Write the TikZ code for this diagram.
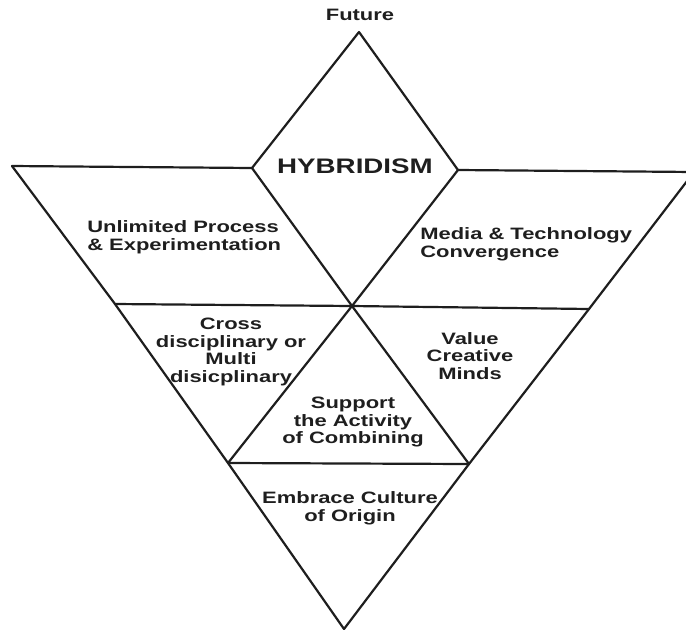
\documentclass[tikz,border=0pt]{standalone}
\usepackage{fontspec}
\setmainfont{Liberation Sans}
\usepackage{tikz}
\definecolor{InkDark}{RGB}{30,30,30}
\tikzstyle{FrameLine}=[InkDark,line width=2.2pt,line cap=round,line join=round]
\tikzstyle{AreaLabel}=[InkDark,align=center,inner sep=0pt,xscale=1.33,
font=\bfseries\fontsize{16.5}{17.7}\selectfont]
\tikzstyle{MainLabel}=[InkDark,inner sep=0pt,xscale=1.32,font=\bfseries\fontsize{21}{24}\selectfont]

\begin{document}
\begin{tikzpicture}[x=1pt,y=-1pt]
        \useasboundingbox(0,0)rectangle(686,630);
        \clip(0,0)rectangle(686,630);
        % corner points of the figure
        \coordinate(apex)at(359,32);
        \coordinate(dl)at(252,168);
        \coordinate(dr)at(458,170);
        \coordinate(tl)at(12,166);
        \coordinate(tr)at(694,172);
        \coordinate(ml)at(115,304);
        \coordinate(mr)at(589,309);
        \coordinate(c)at(352,306);
        \coordinate(bl)at(228,463);
        \coordinate(br)at(469,464);
        \coordinate(bot)at(344,629);
        % outline
        \draw[FrameLine](tl)--(ml)--(bl)--(bot);
        \draw[FrameLine](tr)--(mr)--(br)--(bot);
        \draw[FrameLine](tl)--(dl)--(apex)--(dr)--(tr);
        \draw[FrameLine](dl)--(c)--(br);
        \draw[FrameLine](dr)--(c)--(bl);
        \draw[FrameLine](ml)--(c)--(mr);
        \draw[FrameLine](bl)--(br);
        % labels
        \node[AreaLabel](future)at(360,15){Future};
        \node[MainLabel](hybrid)at(355,166){HYBRIDISM};
        \node[AreaLabel,align=left,anchor=west](process)at(87,237){Unlimited Process\\\& Experimentation};
        \node[AreaLabel,align=left,anchor=west](media)at(420,244){Media \& Technology\\Convergence};
        \node[AreaLabel](cross)at(231,352){Cross\\disciplinary or\\Multi\\disicplinary};
        \node[AreaLabel](value)at(470,356){Value\\Creative\\Minds};
        \node[AreaLabel](support)at(353,422){Support\\the Activity\\of Combining};
        \node[AreaLabel](embrace)at(350,508){Embrace Culture\\of Origin};
    \end{tikzpicture}
\end{document}
